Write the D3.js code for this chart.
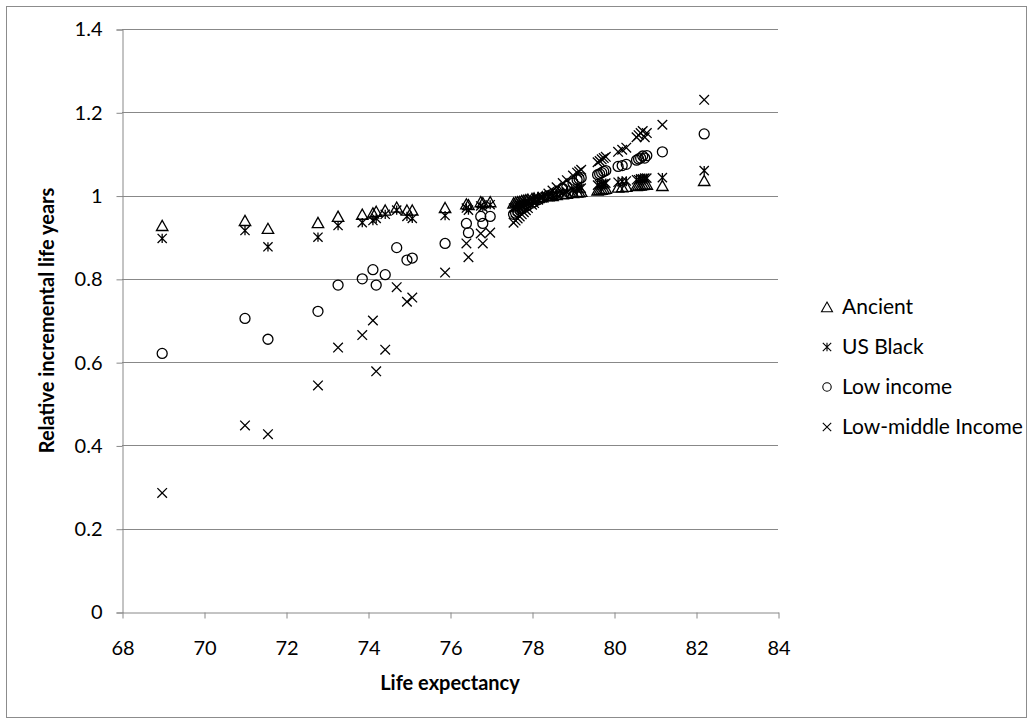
<!DOCTYPE html>
<html>
<head>
<meta charset="utf-8">
<script src="https://cdn.jsdelivr.net/npm/d3@7"></script>
<style>
  body { margin: 0; background: #fff; }
  svg { display: block; font-family: Lato, "Open Sans", sans-serif; }
</style>
</head>
<body>
<div class="usable"></div>
<script>
// life expectancy (shared x for every series)
const lifeExp = [68.98, 71.0, 71.56, 72.78, 73.27, 73.86, 74.12, 74.2, 74.42, 74.7, 74.95, 75.08,
  75.88, 76.4, 76.45, 76.75, 76.8, 76.98,
  77.55, 77.6, 77.65, 77.7, 77.75, 77.8, 77.85, 77.9, 78.0, 78.05, 78.15, 78.25, 78.4, 78.5,
  78.6, 78.75, 78.85, 79.0, 79.1, 79.15, 79.2, 79.6, 79.65, 79.7, 79.75, 79.8, 80.1, 80.2,
  80.3, 80.55, 80.6, 80.65, 80.7, 80.75, 80.8, 81.18, 82.2]

const ancient = [0.928, 0.94, 0.921, 0.935, 0.95, 0.955, 0.958, 0.962, 0.965, 0.972, 0.965, 0.965,
  0.971, 0.98, 0.978, 0.985, 0.983, 0.985,
  0.982, 0.984, 0.985, 0.986, 0.988, 0.989, 0.99, 0.991, 0.993, 0.994, 0.995, 0.997, 0.999, 1.0,
  1.002, 1.004, 1.005, 1.007, 1.008, 1.009, 1.01, 1.013, 1.014, 1.015, 1.016, 1.017, 1.02, 1.021,
  1.022, 1.024, 1.025, 1.025, 1.026, 1.027, 1.027, 1.024, 1.036]

const usBlack = [0.897, 0.916, 0.877, 0.9, 0.928, 0.935, 0.94, 0.945, 0.955, 0.965, 0.95, 0.945,
  0.952, 0.97, 0.965, 0.975, 0.972, 0.978,
  0.97, 0.972, 0.975, 0.977, 0.978, 0.98, 0.982, 0.984, 0.987, 0.989, 0.992, 0.995, 0.998, 1.0,
  1.003, 1.006, 1.009, 1.013, 1.016, 1.017, 1.018, 1.025, 1.026, 1.027, 1.028, 1.03, 1.032, 1.034,
  1.035, 1.038, 1.038, 1.04, 1.04, 1.042, 1.042, 1.043, 1.06]

const lowIncome = [0.621, 0.705, 0.655, 0.722, 0.785, 0.8, 0.822, 0.785, 0.81, 0.875, 0.845, 0.85,
  0.885, 0.933, 0.911, 0.95, 0.933, 0.95,
  0.955, 0.958, 0.962, 0.965, 0.968, 0.971, 0.974, 0.977, 0.982, 0.985, 0.99, 0.995, 1.0, 1.004,
  1.01, 1.017, 1.022, 1.03, 1.038, 1.04, 1.043, 1.05, 1.052, 1.055, 1.058, 1.06, 1.07, 1.072,
  1.075, 1.085, 1.088, 1.09, 1.095, 1.09, 1.096, 1.105, 1.148]

const lowMiddle = [0.286, 0.448, 0.427, 0.544, 0.635, 0.665, 0.70, 0.578, 0.63, 0.78, 0.745, 0.755,
  0.815, 0.885, 0.852, 0.909, 0.885, 0.911,
  0.935, 0.94, 0.945, 0.95, 0.955, 0.96, 0.965, 0.97, 0.978, 0.982, 0.99, 0.997, 1.005, 1.012,
  1.02, 1.03, 1.037, 1.048, 1.055, 1.058, 1.062, 1.08, 1.083, 1.087, 1.09, 1.093, 1.105, 1.11,
  1.115, 1.14, 1.145, 1.15, 1.155, 1.14, 1.15, 1.17, 1.23]

const seriesNames = ["Ancient", "US Black", "Low income", "Low-middle Income"]
const seriesShapes = ["triangle", "star", "circle", "cross"]
const seriesValues = [ancient, usBlack, lowIncome, lowMiddle]

const xTicks = [68, 70, 72, 74, 76, 78, 80, 82, 84]
const yTicks = [0, 0.2, 0.4, 0.6, 0.8, 1, 1.2, 1.4]

const width = 1034,
  height = 727

const plot = { left: 122, right: 778, top: 29, bottom: 612 }
const fontSize = "20px"

let svg = d3.select(".usable").append("svg")
  .attr("width", width)
  .attr("height", height)

// marco del grafico
svg.append("rect")
  .attr("x", 6.5).attr("y", 6.5)
  .attr("width", 1020).attr("height", 711)
  .attr("fill", "#fff").attr("stroke", "#8c8c8c").attr("stroke-width", 1)

const x = d3.scaleLinear().domain([68, 84]).range([plot.left, plot.right])
const y = d3.scaleLinear().domain([0, 1.4]).range([plot.bottom, plot.top])

// lineas de la grilla
svg.append("g").selectAll("line")
  .data(yTicks.filter(d => d > 0))
  .join("line")
  .attr("x1", plot.left).attr("x2", plot.right)
  .attr("y1", d => Math.round(y(d)) + 0.5).attr("y2", d => Math.round(y(d)) + 0.5)
  .attr("stroke", "#888")

// eje y
let yAxis = svg.append("g")
  .attr("transform", "translate(" + (plot.left + 0.5) + ",0.5)")
  .call(d3.axisLeft(y).tickValues(yTicks).tickSize(6).tickPadding(14).tickFormat(d3.format("~g")))
yAxis.select(".domain").attr("stroke", "#888")
yAxis.selectAll(".tick line").attr("stroke", "#888")
yAxis.selectAll(".tick text").attr("fill", "#000").style("font-size", fontSize)
  .style("font-family", "Lato, sans-serif")

// eje x
let xAxis = svg.append("g")
  .attr("transform", "translate(0.5," + (plot.bottom + 0.5) + ")")
  .call(d3.axisBottom(x).tickValues(xTicks).tickSize(6).tickPadding(22).tickSizeOuter(0))
xAxis.select(".domain").attr("stroke", "#888")
xAxis.selectAll(".tick line").attr("stroke", "#888")
xAxis.selectAll(".tick text").attr("fill", "#000").style("font-size", fontSize)
  .style("font-family", "Lato, sans-serif")

// titulos de los ejes
svg.append("text")
  .attr("x", (plot.left + plot.right) / 2).attr("y", 690)
  .attr("text-anchor", "middle")
  .style("font-size", fontSize).style("font-weight", "bold")
  .text("Life expectancy")

svg.append("text")
  .attr("transform", "translate(54," + ((plot.top + plot.bottom) / 2) + ") rotate(-90)")
  .attr("text-anchor", "middle")
  .style("font-size", fontSize).style("font-weight", "bold")
  .text("Relative incremental life years")

function markerPath(shape, s) {
  if (shape == "triangle") {
    return "M0," + (-s) + "L" + (s * 1.1) + "," + (s * 0.95) + "L" + (-s * 1.1) + "," + (s * 0.95) + "Z"
  }
  if (shape == "circle") {
    return "M" + s + ",0A" + s + "," + s + " 0 1,1 " + (-s) + ",0A" + s + "," + s + " 0 1,1 " + s + ",0Z"
  }
  if (shape == "cross") {
    return "M" + (-s) + "," + (-s) + "L" + s + "," + s + "M" + (-s) + "," + s + "L" + s + "," + (-s)
  }
  // star: X con linea vertical
  return "M" + (-s) + "," + (-s) + "L" + s + "," + s + "M" + (-s) + "," + s + "L" + s + "," + (-s) +
    "M0," + (-s) + "L0," + s
}

const sizes = { triangle: 5.2, star: 4.6, circle: 5, cross: 4.8 }

seriesValues.forEach(function (vals, i) {
  let shape = seriesShapes[i]
  svg.append("g").selectAll("path")
    .data(vals)
    .join("path")
    .attr("d", markerPath(shape, sizes[shape]))
    .attr("transform", (d, j) => "translate(" + x(lifeExp[j]) + "," + y(d) + ")")
    .attr("fill", "none")
    .attr("stroke", "#000")
    .attr("stroke-width", 1.3)
})

// leyenda
let legend = svg.append("g").attr("transform", "translate(827,307)")
seriesNames.forEach(function (name, i) {
  let shape = seriesShapes[i]
  let row = legend.append("g").attr("transform", "translate(0," + (i * 40) + ")")
  row.append("path")
    .attr("d", markerPath(shape, shape == "triangle" ? 5 : 4.2))
    .attr("fill", "none").attr("stroke", "#000").attr("stroke-width", 1.1)
  row.append("text")
    .attr("x", 15).attr("y", 7)
    .style("font-size", "21px")
    .text(name)
})
</script>
</body>
</html>
